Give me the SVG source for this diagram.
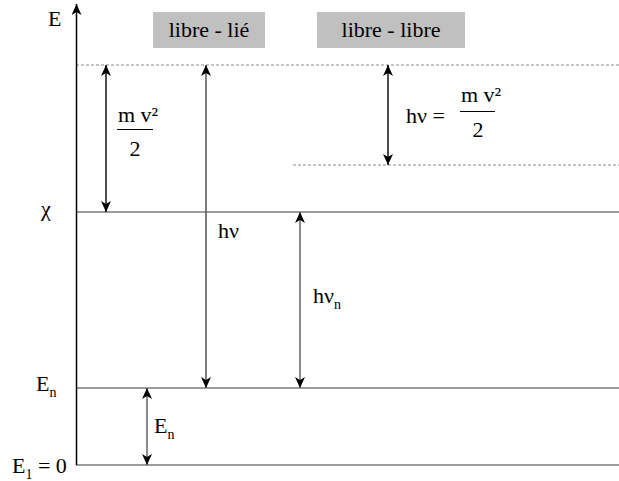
<svg xmlns="http://www.w3.org/2000/svg" width="619" height="481" viewBox="0 0 619 481">
<style>
text{font-family:"Liberation Serif","Times New Roman",serif;font-size:22px;fill:#000}
.sub{font-size:14px}
.lvl{stroke:#3a3a3a;stroke-width:1.2;fill:none}
.dash{stroke:#8a8a8a;stroke-width:1;stroke-dasharray:3,2;fill:none}
.arr{stroke-width:1.5;fill:none;marker-start:url(#ah);marker-end:url(#ah)}
.box{fill:#c0c0c0}
.bar{stroke:#000;stroke-width:1}
</style>
<defs>
<marker id="ah" viewBox="0 0 11 10" refX="11" refY="5" markerWidth="11" markerHeight="10" markerUnits="userSpaceOnUse" orient="auto-start-reverse">
<path d="M0,0 L11,5 L0,10 L3,5 z" fill="#000"/>
</marker>
<marker id="ax" viewBox="0 0 11 10" refX="11" refY="5" markerWidth="11" markerHeight="10" markerUnits="userSpaceOnUse" orient="auto">
<path d="M0,0 L11,5 L0,10 L3,5 z" fill="#000"/>
</marker>
</defs>
<g id="levels">
<line class="dash" x1="76" y1="65" x2="619" y2="65"/>
<line class="dash" x1="293" y1="165" x2="619" y2="165"/>
<line class="lvl" x1="76" y1="212" x2="619" y2="212"/>
<line class="lvl" x1="76" y1="388" x2="619" y2="388"/>
<line class="lvl" x1="76" y1="465" x2="619" y2="465"/>
</g>
<g id="axis">
<line x1="76.5" y1="465" x2="76.5" y2="4" stroke="#000" stroke-width="1.5" marker-end="url(#ax)"/>
<text x="48" y="26">E</text>
<text x="41" y="216">χ</text>
<text x="36" y="391">E<tspan class="sub" dy="6">n</tspan></text>
<text x="12" y="473">E<tspan class="sub" dy="6">1</tspan><tspan dy="-6"> = 0</tspan></text>
</g>
<g id="label-libre-lie">
<rect class="box" x="153" y="12" width="112" height="36"/>
<text x="209" y="37" text-anchor="middle">libre - lié</text>
</g>
<g id="label-libre-libre">
<rect class="box" x="317" y="12" width="148" height="36"/>
<text x="391" y="37" text-anchor="middle">libre - libre</text>
</g>
<g id="connectors">
<line class="arr" x1="106" y1="65" x2="106" y2="212" stroke="#111"/>
<line class="arr" x1="206" y1="65" x2="206" y2="388" stroke="#555"/>
<line class="arr" x1="300" y1="212" x2="300" y2="388" stroke="#666"/>
<line class="arr" x1="388" y1="65" x2="388" y2="165" stroke="#111"/>
<line class="arr" x1="147" y1="388" x2="147" y2="465" stroke="#666"/>
</g>
<g id="kinetic-left">
<text x="118" y="122">m v²</text>
<line class="bar" x1="117" y1="129.5" x2="153" y2="129.5"/>
<text x="135" y="156" text-anchor="middle">2</text>
</g>
<g id="hv-label">
<text x="218" y="238">hν</text>
</g>
<g id="hvn-label">
<text x="313" y="303">hν<tspan class="sub" dy="6">n</tspan></text>
</g>
<g id="en-label">
<text x="154" y="433">E<tspan class="sub" dy="6">n</tspan></text>
</g>
<g id="kinetic-right">
<text x="406" y="123">hν =</text>
<text x="461" y="102">m v²</text>
<line class="bar" x1="460" y1="111.5" x2="495" y2="111.5"/>
<text x="478" y="137" text-anchor="middle">2</text>
</g>
</svg>
